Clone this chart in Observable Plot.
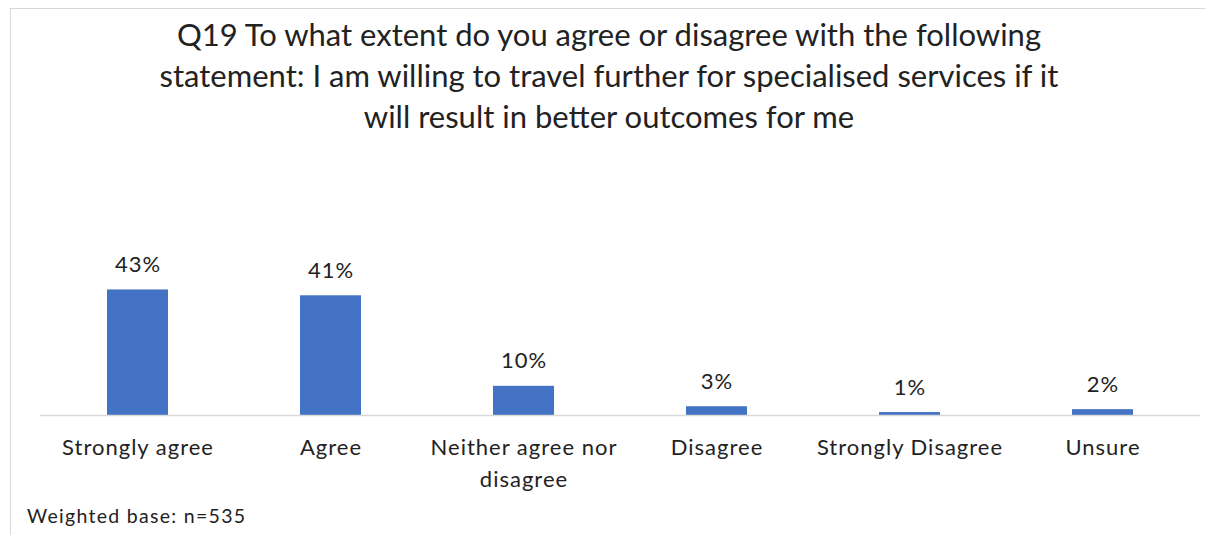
<!DOCTYPE html>
<html>
<head>
<meta charset="utf-8">
<script src="https://cdn.jsdelivr.net/npm/d3@7"></script>
<script src="https://cdn.jsdelivr.net/npm/@observablehq/plot@0.6"></script>
<style>
  html, body { margin: 0; padding: 0; background: #fff; }
  #wrap { position: relative; width: 1205px; height: 535px; overflow: hidden; font-family: Lato, "Open Sans", sans-serif; color: #222; }
  #frame { position: absolute; left: 10px; top: 8px; width: 1220px; height: 560px; border: 1.5px solid #d9d9d9; box-sizing: border-box; }
  #title { position: absolute; left: 10px; width: 1198px; top: 14px; text-align: center; font-size: 31px; line-height: 41px; }
  #caption { position: absolute; left: 27px; top: 505px; font-size: 19.5px; line-height: 22px; letter-spacing: 1.3px; }
  #chart { position: absolute; left: 0; top: 0; }
  #chart text { letter-spacing: 1px; }
</style>
</head>
<body>
<div id="wrap">
  <div id="frame"></div>
  <div id="chart"></div>
  <div id="title">Q19 To what extent do you agree or disagree with the following<br>statement: I am willing to travel further for specialised services if it<br>will result in better outcomes for me</div>
  <div id="caption">Weighted base: n=535</div>
</div>
<script>
const categories = ["Strongly agree", "Agree", "Neither agree nor disagree", "Disagree", "Strongly Disagree", "Unsure"];
const tickLabels = ["Strongly agree", "Agree", "Neither agree nor\ndisagree", "Disagree", "Strongly Disagree", "Unsure"];
const values = [43, 41, 10, 3, 1, 2];

const data = categories.map((c, i) => ({category: c, value: values[i]}));
const labelOf = new Map(categories.map((c, i) => [c, tickLabels[i]]));

const fontSize = 22;
const lineHeight = 1.45;

const chart = Plot.plot({
  width: 1205,
  height: 535,
  marginLeft: 40,
  marginRight: 5,
  marginTop: 269,
  marginBottom: 120,
  style: {fontFamily: "Lato, 'Open Sans', sans-serif", background: "transparent", color: "#222"},
  x: {domain: categories, paddingInner: 0.685, paddingOuter: 0.3425, label: null},
  y: {domain: [0, 50], axis: null},
  marks: [
    Plot.barY(data, {x: "category", y: "value", fill: "#4472C4"}),
    Plot.ruleY([0], {stroke: "#d9d9d9", strokeWidth: 1.5}),
    Plot.text(data, {x: "category", y: "value", text: d => d.value + "%", dy: -18, lineAnchor: "bottom", fontSize: 22, fill: "#222"}),
    Plot.axisX({
      tickSize: 0,
      tickPadding: 40 - 0.71 * lineHeight * fontSize,
      tickFormat: d => labelOf.get(d),
      fontSize: fontSize,
      lineHeight: lineHeight,
      label: null,
      fill: "#222"
    })
  ]
});
document.getElementById("chart").appendChild(chart);
</script>
</body>
</html>
